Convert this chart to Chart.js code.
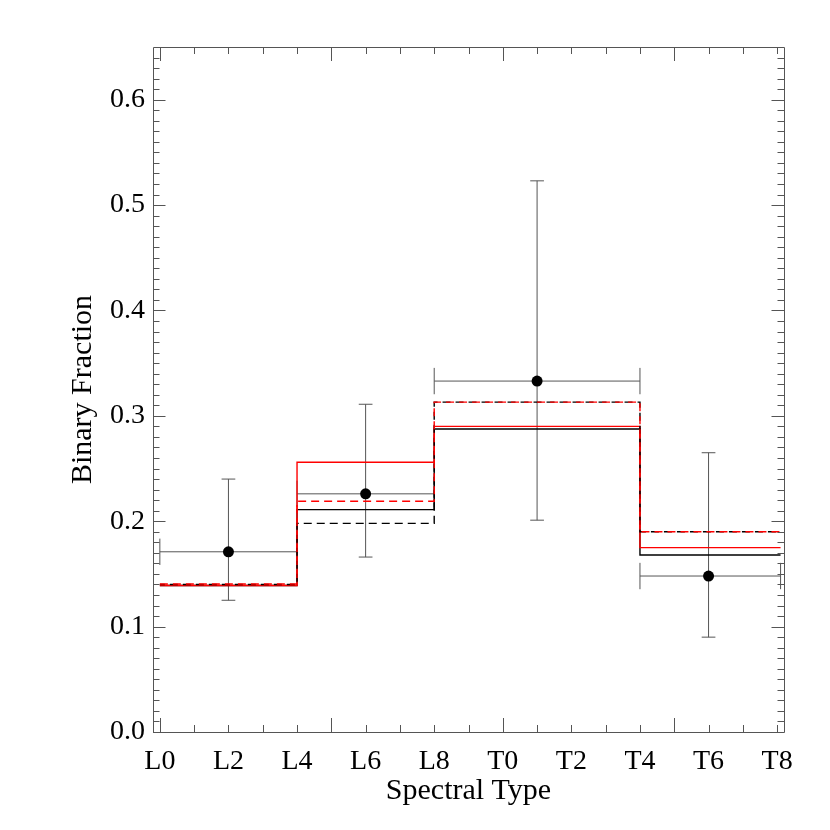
<!DOCTYPE html>
<html>
<head>
<meta charset="utf-8">
<script src="https://cdn.jsdelivr.net/npm/chart.js@4.4.1/dist/chart.umd.min.js"></script>
<style>
  html, body { margin: 0; padding: 0; background: #fff; }
  #wrap { width: 830px; height: 830px; }
</style>
</head>
<body>
<div id="wrap"><canvas id="binChart" width="830" height="830"></canvas></div>
<script>
// spectral type axis: L0 = 0 ... T8 = 18
const tickValues = [0, 2, 4, 6, 8, 10, 12, 14, 16, 18];
const tickNames = ['L0', 'L2', 'L4', 'L6', 'L8', 'T0', 'T2', 'T4', 'T6', 'T8'];

// histogram bins (left edges + last right edge)
const binEdges = [0, 4, 8, 14, 18.1];
const blackSolid = [0.139, 0.211, 0.2875, 0.168];
const blackDashed = [0.140, 0.198, 0.313, 0.190];
const redSolid = [0.139, 0.256, 0.290, 0.175];
const redDashed = [0.1405, 0.219, 0.313, 0.190];

// measured binary fractions
const pointX = [2, 6, 11, 16];
const pointY = [0.171, 0.226, 0.333, 0.148];
const errLow = [0.125, 0.166, 0.201, 0.090];
const errHigh = [0.240, 0.311, 0.523, 0.265];

const yLabels = ['0.0', '0.1', '0.2', '0.3', '0.4', '0.5', '0.6'];

const capX = 0.2;     // half width of y-error caps (x units)
const capY = 0.0125;  // half height of x-error caps (y units)
const FONT = "'Liberation Serif', 'Times New Roman', serif";

function toSteps(vals) {
    const pts = vals.map((v, i) => ({ x: binEdges[i], y: v }));
    pts.push({ x: binEdges[binEdges.length - 1], y: vals[vals.length - 1] });
    return pts;
}

function errorSegments() {
    const pts = [];
    const gap = x => pts.push({ x: x, y: null });
    pointX.forEach((px, i) => {
        const x0 = binEdges[i], x1 = binEdges[i + 1], py = pointY[i];
        // horizontal bar across the bin with end caps
        pts.push({ x: x0, y: py }, { x: x1, y: py }); gap(x1);
        pts.push({ x: x0, y: py - capY }, { x: x0, y: py + capY }); gap(x0);
        pts.push({ x: x1, y: py - capY }, { x: x1, y: py + capY }); gap(x1);
        // vertical error with caps
        pts.push({ x: px, y: errLow[i] }, { x: px, y: errHigh[i] }); gap(px);
        pts.push({ x: px - capX, y: errLow[i] }, { x: px + capX, y: errLow[i] }); gap(px);
        pts.push({ x: px - capX, y: errHigh[i] }, { x: px + capX, y: errHigh[i] }); gap(px);
    });
    return pts;
}

function stepSet(vals, color, dash, offset, order) {
    return {
        type: 'line',
        data: toSteps(vals),
        borderColor: color,
        borderWidth: 1.4,
        borderDash: dash,
        borderDashOffset: offset || 0,
        stepped: 'before',
        pointRadius: 0,
        fill: false,
        tension: 0,
        order: order
    };
}

// inward tick marks + frame, like the original plot
const frameTicks = {
    id: 'frameTicks',
    afterDraw(chart) {
        const { ctx, chartArea: a, scales: { x, y } } = chart;
        ctx.save();
        ctx.strokeStyle = '#555';
        ctx.lineWidth = 1;
        ctx.beginPath();
        ctx.rect(Math.round(a.left) + 0.5, Math.round(a.top) + 0.5,
                 Math.round(a.right - a.left), Math.round(a.bottom - a.top));
        for (let v = 0; v <= 18; v++) {
            const px = Math.round(x.getPixelForValue(v)) + 0.5;
            const len = v % 5 === 0 ? 14 : 7;
            ctx.moveTo(px, a.bottom); ctx.lineTo(px, a.bottom - len);
            ctx.moveTo(px, a.top); ctx.lineTo(px, a.top + len);
        }
        for (let i = 0; i < 65; i++) {
            const py = Math.round(y.getPixelForValue(i / 100)) + 0.5;
            const len = i % 10 === 0 ? 12.5 : 6.5;
            ctx.moveTo(a.left, py); ctx.lineTo(a.left + len, py);
            ctx.moveTo(a.right, py); ctx.lineTo(a.right - len, py);
        }
        ctx.stroke();
        ctx.restore();
    }
};

new Chart(document.getElementById('binChart'), {
    type: 'line',
    data: {
        datasets: [
            {
                type: 'line',
                data: errorSegments(),
                borderColor: '#555',
                borderWidth: 1,
                pointRadius: 0,
                spanGaps: false,
                tension: 0,
                order: 6
            },
            stepSet(blackSolid, '#000', [], 0, 5),
            stepSet(redSolid, '#ff0000', [], 0, 4),
            stepSet(blackDashed, '#000', [8, 5], 3, 3),
            stepSet(redDashed, '#ff0000', [8, 5], 0, 2),
            {
                type: 'scatter',
                data: pointX.map((x, i) => ({ x: x, y: pointY[i] })),
                showLine: false,
                pointRadius: 5.5,
                pointBackgroundColor: '#000',
                pointBorderColor: '#000',
                pointBorderWidth: 0,
                order: 0
            }
        ]
    },
    options: {
        responsive: false,
        animation: false,
        devicePixelRatio: 1,
        layout: { padding: { top: 47, right: 46, bottom: 0, left: 0 } },
        plugins: { legend: { display: false }, tooltip: { enabled: false } },
        scales: {
            x: {
                type: 'linear',
                min: -0.2,
                max: 18.2,
                afterFit: axis => { axis.height = 98; },
                afterBuildTicks: axis => { axis.ticks = tickValues.map(v => ({ value: v })); },
                grid: { display: false, drawTicks: false },
                border: { display: false },
                ticks: {
                    autoSkip: false,
                    maxRotation: 0,
                    padding: 13,
                    color: '#000',
                    font: { family: FONT, size: 28 },
                    callback: v => tickNames[tickValues.indexOf(v)]
                },
                title: {
                    display: true,
                    text: 'Spectral Type',
                    color: '#000',
                    font: { family: FONT, size: 30 },
                    padding: { top: 0, bottom: 21 }
                }
            },
            y: {
                type: 'linear',
                min: 0,
                max: 0.65,
                afterFit: axis => { axis.width = 153; },
                afterBuildTicks: axis => { axis.ticks = yLabels.map(s => ({ value: parseFloat(s) })); },
                grid: { display: false, drawTicks: false },
                border: { display: false },
                ticks: {
                    padding: 8,
                    color: '#000',
                    font: { family: FONT, size: 28 },
                    callback: v => v.toFixed(1)
                },
                title: {
                    display: true,
                    text: 'Binary Fraction',
                    color: '#000',
                    font: { family: FONT, size: 30 },
                    padding: { top: 65, bottom: 0 }
                }
            }
        }
    },
    plugins: [frameTicks]
});
</script>
</body>
</html>
